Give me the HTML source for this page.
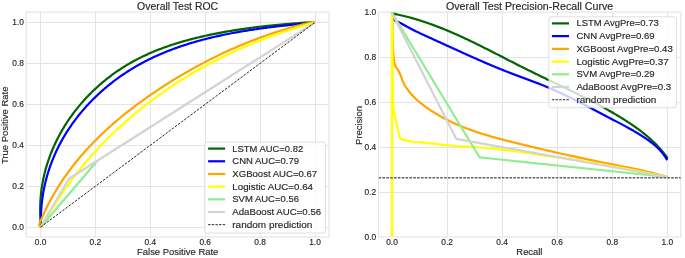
<!DOCTYPE html>
<html><head><meta charset="utf-8"><title>ROC and PR curves</title>
<style>
html,body{margin:0;padding:0;background:#fff;width:685px;height:258px;overflow:hidden;}
svg{display:block;will-change:transform;font-family:"Liberation Sans",sans-serif;}
text{font-family:"Liberation Sans",sans-serif;stroke:#262626;stroke-width:0.15px;paint-order:stroke;}
</style></head><body>
<svg width="685" height="258" viewBox="0 0 685 258" font-family="Liberation Sans, sans-serif" fill="#262626">
<defs>
<clipPath id="clipL"><rect x="26.20" y="12.10" width="302.80" height="224.90"/></clipPath>
<clipPath id="clipR"><rect x="378.60" y="12.10" width="302.20" height="224.90"/></clipPath>
</defs>
<rect x="0" y="0" width="685" height="258" fill="#fff"/>
<g stroke="#e4e4e4" stroke-width="1.0" shape-rendering="auto">
<line x1="40.50" y1="12.10" x2="40.50" y2="237.00"/>
<line x1="95.50" y1="12.10" x2="95.50" y2="237.00"/>
<line x1="150.50" y1="12.10" x2="150.50" y2="237.00"/>
<line x1="205.50" y1="12.10" x2="205.50" y2="237.00"/>
<line x1="260.50" y1="12.10" x2="260.50" y2="237.00"/>
<line x1="315.50" y1="12.10" x2="315.50" y2="237.00"/>
<line x1="26.20" y1="22.50" x2="329.00" y2="22.50"/>
<line x1="26.20" y1="63.50" x2="329.00" y2="63.50"/>
<line x1="26.20" y1="104.50" x2="329.00" y2="104.50"/>
<line x1="26.20" y1="145.50" x2="329.00" y2="145.50"/>
<line x1="26.20" y1="186.50" x2="329.00" y2="186.50"/>
<line x1="26.20" y1="227.50" x2="329.00" y2="227.50"/>
<line x1="392.50" y1="12.10" x2="392.50" y2="237.00"/>
<line x1="447.50" y1="12.10" x2="447.50" y2="237.00"/>
<line x1="502.50" y1="12.10" x2="502.50" y2="237.00"/>
<line x1="557.50" y1="12.10" x2="557.50" y2="237.00"/>
<line x1="612.50" y1="12.10" x2="612.50" y2="237.00"/>
<line x1="667.50" y1="12.10" x2="667.50" y2="237.00"/>
<line x1="378.60" y1="57.50" x2="680.80" y2="57.50"/>
<line x1="378.60" y1="102.50" x2="680.80" y2="102.50"/>
<line x1="378.60" y1="147.50" x2="680.80" y2="147.50"/>
<line x1="378.60" y1="192.50" x2="680.80" y2="192.50"/>
</g>
<rect x="26.20" y="12.10" width="302.80" height="224.90" fill="none" stroke="#e0e0e0" stroke-width="1.0"/>
<rect x="378.60" y="12.10" width="302.20" height="224.90" fill="none" stroke="#e0e0e0" stroke-width="1.0"/>
<g clip-path="url(#clipL)">
<path d="M40.50 227.00 L41.07 226.28 L40.93 224.92 L40.80 223.56 L40.68 222.21 L40.57 220.86 L40.48 219.51 L40.40 218.16 L40.33 216.81 L40.27 215.47 L40.22 214.13 L40.19 212.78 L40.17 211.45 L40.16 210.11 L40.16 208.77 L40.18 207.44 L40.20 206.11 L40.24 204.78 L40.29 203.46 L40.35 202.13 L40.42 200.81 L40.51 199.49 L40.60 198.18 L40.71 196.86 L40.83 195.55 L40.95 194.24 L41.10 192.93 L41.25 191.63 L41.41 190.33 L41.58 189.03 L41.77 187.73 L41.96 186.44 L42.17 185.15 L42.39 183.86 L42.62 182.58 L42.85 181.30 L43.10 180.02 L43.36 178.74 L43.64 177.47 L43.92 176.20 L44.21 174.93 L44.51 173.67 L44.82 172.41 L45.15 171.16 L45.48 169.90 L45.82 168.65 L46.18 167.41 L46.54 166.16 L46.91 164.92 L47.30 163.69 L47.69 162.46 L48.09 161.23 L48.50 160.00 L48.93 158.78 L49.36 157.56 L49.80 156.35 L50.25 155.14 L50.71 153.93 L51.19 152.73 L51.67 151.53 L52.16 150.34 L52.65 149.15 L53.16 147.96 L53.68 146.78 L54.21 145.60 L54.74 144.43 L55.29 143.26 L55.84 142.09 L56.40 140.93 L56.97 139.78 L57.55 138.63 L58.14 137.48 L58.74 136.34 L59.35 135.20 L59.96 134.06 L60.58 132.93 L61.22 131.81 L61.86 130.69 L62.51 129.57 L63.16 128.46 L63.83 127.36 L64.50 126.26 L65.18 125.16 L65.87 124.07 L66.57 122.99 L67.28 121.91 L67.99 120.83 L68.71 119.76 L69.44 118.70 L70.18 117.64 L70.93 116.58 L71.68 115.53 L72.44 114.49 L73.21 113.45 L73.99 112.41 L74.77 111.39 L75.56 110.36 L76.36 109.35 L77.16 108.34 L77.98 107.33 L78.80 106.33 L79.62 105.34 L80.46 104.35 L81.30 103.37 L82.15 102.39 L83.00 101.42 L83.86 100.45 L84.73 99.49 L85.61 98.54 L86.49 97.59 L87.38 96.65 L88.27 95.72 L89.18 94.79 L90.09 93.87 L91.00 92.95 L91.92 92.04 L92.85 91.14 L93.78 90.24 L94.72 89.35 L95.67 88.47 L96.62 87.59 L97.58 86.72 L98.55 85.86 L99.52 85.00 L100.49 84.15 L101.48 83.30 L102.46 82.46 L103.46 81.63 L104.46 80.81 L105.46 79.99 L106.47 79.18 L107.49 78.38 L108.51 77.58 L109.54 76.79 L110.57 76.01 L111.61 75.24 L112.65 74.47 L113.70 73.71 L114.75 72.96 L115.81 72.21 L116.88 71.47 L117.95 70.74 L119.02 70.02 L120.10 69.30 L121.18 68.59 L122.27 67.89 L123.36 67.20 L124.46 66.51 L125.56 65.83 L126.67 65.16 L127.78 64.50 L128.89 63.85 L130.01 63.20 L131.14 62.56 L132.27 61.93 L133.40 61.30 L134.54 60.69 L135.68 60.08 L136.82 59.48 L137.97 58.88 L139.12 58.30 L140.28 57.72 L141.44 57.14 L142.61 56.58 L143.77 56.02 L144.94 55.47 L146.12 54.93 L147.30 54.39 L148.48 53.86 L149.67 53.33 L150.85 52.82 L152.05 52.31 L153.24 51.80 L154.44 51.30 L155.64 50.81 L156.85 50.33 L158.05 49.85 L159.26 49.38 L160.48 48.91 L161.69 48.45 L162.91 48.00 L164.13 47.55 L165.36 47.11 L166.59 46.67 L167.81 46.24 L169.05 45.82 L170.28 45.40 L171.52 44.99 L172.76 44.58 L174.00 44.18 L175.24 43.78 L176.48 43.39 L177.73 43.01 L178.98 42.63 L180.23 42.25 L181.49 41.88 L182.74 41.51 L184.00 41.15 L185.25 40.80 L186.51 40.45 L187.78 40.10 L189.04 39.76 L190.30 39.43 L191.57 39.09 L192.84 38.77 L194.10 38.44 L195.37 38.13 L196.64 37.81 L197.92 37.50 L199.19 37.20 L200.46 36.90 L201.74 36.60 L203.01 36.31 L204.29 36.02 L205.57 35.73 L206.85 35.45 L208.12 35.18 L209.40 34.90 L210.68 34.63 L211.96 34.37 L213.24 34.10 L214.52 33.84 L215.81 33.59 L217.09 33.34 L218.37 33.09 L219.65 32.84 L220.94 32.60 L222.22 32.36 L223.50 32.13 L224.79 31.90 L226.07 31.67 L227.36 31.44 L228.64 31.22 L229.93 31.00 L231.21 30.79 L232.50 30.58 L233.78 30.37 L235.07 30.16 L236.36 29.96 L237.64 29.76 L238.93 29.56 L240.22 29.36 L241.51 29.17 L242.79 28.99 L244.08 28.80 L245.37 28.62 L246.66 28.44 L247.95 28.26 L249.23 28.08 L250.52 27.91 L251.81 27.74 L253.10 27.58 L254.39 27.41 L255.67 27.25 L256.96 27.09 L258.25 26.94 L259.54 26.78 L260.83 26.63 L262.12 26.48 L263.40 26.33 L264.69 26.19 L265.98 26.05 L267.27 25.91 L268.56 25.77 L269.84 25.64 L271.13 25.50 L272.42 25.37 L273.71 25.24 L274.99 25.12 L276.28 24.99 L277.57 24.87 L278.85 24.75 L280.14 24.63 L281.43 24.51 L282.71 24.40 L284.00 24.28 L285.28 24.17 L286.57 24.06 L287.85 23.96 L289.14 23.85 L290.42 23.75 L291.70 23.64 L292.99 23.54 L294.27 23.44 L295.55 23.35 L296.84 23.25 L298.12 23.16 L299.40 23.06 L300.68 22.97 L301.96 22.88 L303.24 22.79 L304.52 22.70 L305.80 22.62 L307.08 22.53 L308.35 22.45 L309.63 22.37 L310.91 22.29 L312.18 22.21 L313.46 22.13 L315.00 22.40" fill="none" stroke="#006400" stroke-width="2.20" stroke-linejoin="round" stroke-linecap="butt"/>
<path d="M40.50 227.00 L40.98 226.15 L40.94 224.83 L40.91 223.51 L40.88 222.20 L40.87 220.88 L40.87 219.57 L40.88 218.26 L40.91 216.95 L40.94 215.64 L40.98 214.34 L41.03 213.03 L41.10 211.73 L41.17 210.43 L41.26 209.13 L41.35 207.83 L41.46 206.53 L41.58 205.24 L41.70 203.95 L41.84 202.66 L41.99 201.37 L42.14 200.09 L42.31 198.80 L42.49 197.52 L42.68 196.25 L42.88 194.97 L43.08 193.70 L43.30 192.43 L43.53 191.16 L43.77 189.89 L44.01 188.63 L44.27 187.37 L44.54 186.11 L44.82 184.86 L45.10 183.60 L45.40 182.36 L45.71 181.11 L46.02 179.87 L46.35 178.63 L46.68 177.39 L47.03 176.16 L47.38 174.93 L47.74 173.70 L48.11 172.48 L48.50 171.25 L48.89 170.04 L49.29 168.82 L49.70 167.61 L50.12 166.41 L50.54 165.21 L50.98 164.01 L51.43 162.81 L51.88 161.62 L52.35 160.43 L52.82 159.25 L53.30 158.07 L53.79 156.89 L54.29 155.72 L54.80 154.55 L55.32 153.39 L55.84 152.23 L56.38 151.08 L56.92 149.93 L57.47 148.78 L58.03 147.64 L58.60 146.50 L59.18 145.37 L59.76 144.24 L60.36 143.11 L60.96 141.99 L61.57 140.88 L62.19 139.77 L62.82 138.66 L63.45 137.56 L64.09 136.47 L64.74 135.37 L65.40 134.29 L66.07 133.20 L66.74 132.13 L67.42 131.05 L68.11 129.99 L68.81 128.92 L69.51 127.86 L70.23 126.81 L70.95 125.76 L71.67 124.72 L72.41 123.68 L73.15 122.65 L73.90 121.62 L74.65 120.59 L75.41 119.57 L76.18 118.56 L76.96 117.55 L77.74 116.55 L78.53 115.55 L79.33 114.56 L80.14 113.57 L80.95 112.59 L81.76 111.61 L82.59 110.64 L83.42 109.67 L84.26 108.71 L85.10 107.76 L85.95 106.81 L86.81 105.86 L87.67 104.92 L88.54 103.99 L89.41 103.06 L90.29 102.14 L91.18 101.22 L92.07 100.31 L92.97 99.41 L93.87 98.50 L94.78 97.61 L95.70 96.72 L96.62 95.84 L97.55 94.96 L98.48 94.09 L99.42 93.22 L100.37 92.37 L101.31 91.51 L102.27 90.66 L103.23 89.82 L104.20 88.99 L105.17 88.16 L106.14 87.33 L107.12 86.51 L108.11 85.70 L109.10 84.90 L110.09 84.10 L111.09 83.30 L112.10 82.51 L113.11 81.73 L114.12 80.96 L115.14 80.19 L116.17 79.43 L117.20 78.67 L118.23 77.92 L119.27 77.18 L120.31 76.44 L121.35 75.71 L122.40 74.99 L123.46 74.27 L124.52 73.56 L125.58 72.85 L126.65 72.15 L127.72 71.46 L128.79 70.78 L129.87 70.10 L130.95 69.43 L132.04 68.76 L133.13 68.10 L134.22 67.45 L135.32 66.81 L136.42 66.17 L137.52 65.54 L138.63 64.91 L139.74 64.29 L140.85 63.68 L141.97 63.07 L143.09 62.47 L144.22 61.88 L145.34 61.30 L146.47 60.72 L147.61 60.14 L148.75 59.57 L149.89 59.01 L151.03 58.46 L152.17 57.91 L153.32 57.36 L154.48 56.83 L155.63 56.30 L156.79 55.77 L157.95 55.25 L159.11 54.74 L160.28 54.23 L161.45 53.73 L162.62 53.23 L163.80 52.74 L164.97 52.25 L166.15 51.77 L167.33 51.30 L168.52 50.83 L169.71 50.37 L170.90 49.91 L172.09 49.46 L173.28 49.01 L174.48 48.57 L175.68 48.13 L176.88 47.70 L178.09 47.28 L179.29 46.86 L180.50 46.44 L181.71 46.03 L182.92 45.62 L184.14 45.22 L185.35 44.83 L186.57 44.44 L187.79 44.05 L189.01 43.67 L190.24 43.29 L191.46 42.92 L192.69 42.55 L193.92 42.19 L195.15 41.83 L196.38 41.48 L197.62 41.13 L198.86 40.79 L200.09 40.45 L201.33 40.11 L202.57 39.78 L203.82 39.45 L205.06 39.13 L206.30 38.81 L207.55 38.50 L208.80 38.19 L210.05 37.88 L211.30 37.58 L212.55 37.28 L213.80 36.99 L215.06 36.70 L216.31 36.41 L217.57 36.13 L218.82 35.85 L220.08 35.57 L221.34 35.30 L222.60 35.03 L223.86 34.77 L225.12 34.51 L226.39 34.25 L227.65 34.00 L228.91 33.75 L230.18 33.50 L231.44 33.26 L232.71 33.02 L233.98 32.78 L235.24 32.55 L236.51 32.32 L237.78 32.10 L239.05 31.87 L240.32 31.65 L241.59 31.43 L242.86 31.22 L244.13 31.01 L245.40 30.80 L246.67 30.59 L247.94 30.39 L249.21 30.19 L250.48 29.99 L251.75 29.80 L253.02 29.61 L254.29 29.42 L255.56 29.23 L256.83 29.05 L258.10 28.87 L259.38 28.69 L260.65 28.51 L261.92 28.34 L263.19 28.16 L264.46 27.99 L265.73 27.83 L267.00 27.66 L268.26 27.50 L269.53 27.34 L270.80 27.18 L272.07 27.02 L273.33 26.87 L274.60 26.71 L275.87 26.56 L277.13 26.41 L278.40 26.27 L279.66 26.12 L280.92 25.98 L282.18 25.84 L283.45 25.70 L284.71 25.56 L285.97 25.42 L287.22 25.29 L288.48 25.15 L289.74 25.02 L290.99 24.89 L292.25 24.76 L293.50 24.63 L294.75 24.50 L296.00 24.38 L297.25 24.25 L298.50 24.13 L299.75 24.01 L301.00 23.89 L302.24 23.77 L303.48 23.65 L304.73 23.53 L305.97 23.41 L307.20 23.30 L308.44 23.18 L309.68 23.07 L310.91 22.95 L312.14 22.84 L313.37 22.73 L315.00 22.40" fill="none" stroke="#0000ff" stroke-width="2.20" stroke-linejoin="round" stroke-linecap="butt"/>
<path d="M40.50 227.00 L38.92 225.28 L39.36 224.15 L39.80 223.02 L40.25 221.90 L40.71 220.78 L41.17 219.66 L41.64 218.55 L42.12 217.44 L42.59 216.34 L43.08 215.23 L43.57 214.14 L44.07 213.04 L44.57 211.95 L45.08 210.86 L45.59 209.78 L46.11 208.70 L46.63 207.62 L47.16 206.55 L47.70 205.48 L48.24 204.42 L48.78 203.36 L49.33 202.30 L49.89 201.24 L50.45 200.19 L51.02 199.14 L51.59 198.10 L52.17 197.06 L52.75 196.02 L53.33 194.99 L53.93 193.96 L54.52 192.93 L55.12 191.91 L55.73 190.89 L56.34 189.88 L56.96 188.86 L57.58 187.85 L58.21 186.85 L58.84 185.85 L59.48 184.85 L60.12 183.85 L60.76 182.86 L61.41 181.87 L62.07 180.89 L62.73 179.90 L63.39 178.93 L64.06 177.95 L64.73 176.98 L65.41 176.01 L66.09 175.05 L66.78 174.08 L67.47 173.12 L68.17 172.17 L68.87 171.22 L69.57 170.27 L70.28 169.32 L70.99 168.38 L71.71 167.44 L72.43 166.51 L73.16 165.57 L73.89 164.65 L74.62 163.72 L75.36 162.80 L76.11 161.88 L76.85 160.96 L77.60 160.05 L78.36 159.14 L79.12 158.23 L79.88 157.33 L80.65 156.43 L81.42 155.53 L82.19 154.64 L82.97 153.74 L83.75 152.86 L84.54 151.97 L85.33 151.09 L86.12 150.21 L86.92 149.33 L87.72 148.46 L88.52 147.59 L89.33 146.73 L90.14 145.86 L90.96 145.00 L91.78 144.14 L92.60 143.29 L93.42 142.44 L94.25 141.59 L95.09 140.74 L95.92 139.90 L96.76 139.06 L97.61 138.23 L98.45 137.39 L99.30 136.56 L100.15 135.73 L101.01 134.91 L101.87 134.09 L102.73 133.27 L103.60 132.45 L104.46 131.64 L105.34 130.83 L106.21 130.02 L107.09 129.21 L107.97 128.41 L108.85 127.61 L109.74 126.82 L110.63 126.02 L111.52 125.23 L112.42 124.45 L113.32 123.66 L114.22 122.88 L115.12 122.10 L116.03 121.32 L116.94 120.55 L117.85 119.78 L118.76 119.01 L119.68 118.24 L120.60 117.48 L121.52 116.72 L122.45 115.96 L123.37 115.21 L124.30 114.45 L125.24 113.70 L126.17 112.96 L127.11 112.21 L128.05 111.47 L128.99 110.73 L129.93 109.99 L130.88 109.26 L131.83 108.53 L132.78 107.80 L133.73 107.07 L134.69 106.35 L135.64 105.63 L136.60 104.91 L137.57 104.19 L138.53 103.48 L139.50 102.77 L140.46 102.06 L141.43 101.36 L142.40 100.65 L143.38 99.95 L144.35 99.25 L145.33 98.56 L146.31 97.86 L147.29 97.17 L148.27 96.49 L149.26 95.80 L150.24 95.12 L151.23 94.43 L152.22 93.76 L153.21 93.08 L154.21 92.41 L155.20 91.73 L156.20 91.06 L157.19 90.40 L158.19 89.73 L159.19 89.07 L160.19 88.41 L161.20 87.75 L162.20 87.10 L163.21 86.45 L164.22 85.79 L165.23 85.15 L166.24 84.50 L167.25 83.86 L168.26 83.22 L169.27 82.58 L170.29 81.94 L171.31 81.31 L172.33 80.68 L173.35 80.05 L174.37 79.42 L175.39 78.80 L176.41 78.17 L177.44 77.55 L178.46 76.94 L179.49 76.32 L180.52 75.71 L181.55 75.10 L182.58 74.49 L183.62 73.89 L184.65 73.29 L185.69 72.69 L186.72 72.09 L187.76 71.50 L188.80 70.90 L189.84 70.31 L190.88 69.73 L191.93 69.14 L192.97 68.56 L194.02 67.98 L195.06 67.40 L196.11 66.83 L197.16 66.26 L198.21 65.69 L199.26 65.12 L200.32 64.56 L201.37 64.00 L202.43 63.44 L203.49 62.88 L204.54 62.33 L205.60 61.78 L206.66 61.23 L207.72 60.68 L208.79 60.14 L209.85 59.60 L210.92 59.06 L211.98 58.53 L213.05 57.99 L214.12 57.46 L215.19 56.94 L216.26 56.41 L217.33 55.89 L218.41 55.37 L219.48 54.86 L220.56 54.34 L221.63 53.83 L222.71 53.32 L223.79 52.82 L224.87 52.31 L225.95 51.82 L227.04 51.32 L228.12 50.82 L229.20 50.33 L230.29 49.84 L231.38 49.36 L232.46 48.87 L233.55 48.39 L234.64 47.92 L235.74 47.44 L236.83 46.97 L237.92 46.50 L239.02 46.03 L240.11 45.57 L241.21 45.11 L242.31 44.65 L243.40 44.20 L244.50 43.74 L245.60 43.29 L246.71 42.85 L247.81 42.40 L248.91 41.96 L250.02 41.53 L251.12 41.09 L252.23 40.66 L253.34 40.23 L254.45 39.80 L255.56 39.38 L256.67 38.96 L257.78 38.54 L258.89 38.13 L260.01 37.72 L261.12 37.31 L262.24 36.90 L263.35 36.50 L264.47 36.10 L265.59 35.71 L266.71 35.31 L267.83 34.92 L268.95 34.53 L270.07 34.15 L271.20 33.77 L272.32 33.39 L273.45 33.01 L274.57 32.64 L275.70 32.27 L276.83 31.91 L277.95 31.54 L279.08 31.18 L280.21 30.83 L281.35 30.47 L282.48 30.12 L283.61 29.77 L284.75 29.43 L285.88 29.09 L287.02 28.75 L288.15 28.41 L289.29 28.08 L290.43 27.75 L291.57 27.43 L292.71 27.11 L293.85 26.79 L294.99 26.47 L296.13 26.16 L297.28 25.85 L298.42 25.54 L299.56 25.24 L300.71 24.94 L301.86 24.64 L303.00 24.35 L304.15 24.05 L305.30 23.77 L306.45 23.48 L307.60 23.20 L308.75 22.92 L309.90 22.65 L311.06 22.38 L312.21 22.11 L313.37 21.85 L315.00 22.40" fill="none" stroke="#ffa500" stroke-width="2.20" stroke-linejoin="round" stroke-linecap="butt"/>
<path d="M40.50 227.20 L41.77 226.86 L42.33 225.81 L42.90 224.76 L43.48 223.71 L44.05 222.66 L44.63 221.62 L45.21 220.58 L45.80 219.54 L46.39 218.50 L46.98 217.46 L47.57 216.43 L48.17 215.40 L48.77 214.37 L49.38 213.35 L49.99 212.32 L50.60 211.30 L51.21 210.28 L51.83 209.27 L52.45 208.25 L53.07 207.24 L53.70 206.23 L54.33 205.23 L54.96 204.22 L55.60 203.22 L56.23 202.22 L56.88 201.23 L57.52 200.23 L58.17 199.24 L58.82 198.25 L59.47 197.26 L60.13 196.28 L60.79 195.29 L61.45 194.31 L62.12 193.34 L62.79 192.36 L63.46 191.39 L64.13 190.42 L64.81 189.45 L65.49 188.48 L66.17 187.52 L66.86 186.56 L67.55 185.60 L68.24 184.64 L68.93 183.69 L69.63 182.74 L70.33 181.79 L71.04 180.84 L71.74 179.90 L72.45 178.96 L73.16 178.02 L73.88 177.08 L74.60 176.14 L75.32 175.21 L76.04 174.28 L76.76 173.35 L77.49 172.43 L78.22 171.51 L78.96 170.59 L79.70 169.67 L80.44 168.75 L81.18 167.84 L81.92 166.93 L82.67 166.02 L83.42 165.12 L84.17 164.21 L84.93 163.31 L85.69 162.42 L86.45 161.52 L87.21 160.63 L87.98 159.74 L88.75 158.85 L89.52 157.96 L90.30 157.08 L91.07 156.20 L91.85 155.32 L92.63 154.44 L93.42 153.57 L94.21 152.70 L95.00 151.83 L95.79 150.96 L96.58 150.10 L97.38 149.24 L98.18 148.38 L98.98 147.52 L99.79 146.67 L100.60 145.81 L101.41 144.96 L102.22 144.12 L103.03 143.27 L103.85 142.43 L104.67 141.59 L105.49 140.76 L106.32 139.92 L107.15 139.09 L107.97 138.26 L108.81 137.43 L109.64 136.61 L110.48 135.79 L111.32 134.97 L112.16 134.15 L113.00 133.33 L113.85 132.52 L114.70 131.71 L115.55 130.90 L116.40 130.10 L117.26 129.30 L118.12 128.50 L118.98 127.70 L119.84 126.91 L120.70 126.11 L121.57 125.32 L122.44 124.54 L123.31 123.75 L124.19 122.97 L125.06 122.19 L125.94 121.41 L126.82 120.64 L127.71 119.86 L128.59 119.09 L129.48 118.33 L130.37 117.56 L131.26 116.80 L132.15 116.04 L133.05 115.28 L133.95 114.53 L134.85 113.78 L135.75 113.03 L136.65 112.28 L137.56 111.53 L138.47 110.79 L139.38 110.05 L140.29 109.32 L141.21 108.58 L142.13 107.85 L143.05 107.12 L143.97 106.39 L144.89 105.67 L145.82 104.95 L146.74 104.23 L147.67 103.51 L148.60 102.79 L149.54 102.08 L150.47 101.37 L151.41 100.67 L152.35 99.96 L153.29 99.26 L154.23 98.56 L155.18 97.86 L156.13 97.17 L157.08 96.48 L158.03 95.79 L158.98 95.10 L159.93 94.42 L160.89 93.74 L161.85 93.06 L162.81 92.38 L163.77 91.71 L164.74 91.04 L165.70 90.37 L166.67 89.70 L167.64 89.04 L168.61 88.38 L169.59 87.72 L170.56 87.06 L171.54 86.41 L172.52 85.76 L173.50 85.11 L174.48 84.46 L175.46 83.82 L176.45 83.18 L177.44 82.54 L178.43 81.91 L179.42 81.28 L180.41 80.64 L181.40 80.02 L182.40 79.39 L183.40 78.77 L184.40 78.15 L185.40 77.53 L186.40 76.92 L187.41 76.31 L188.41 75.70 L189.42 75.09 L190.43 74.48 L191.44 73.88 L192.45 73.28 L193.47 72.69 L194.48 72.09 L195.50 71.50 L196.52 70.91 L197.54 70.33 L198.56 69.74 L199.59 69.16 L200.61 68.58 L201.64 68.01 L202.67 67.43 L203.70 66.86 L204.73 66.29 L205.76 65.73 L206.80 65.17 L207.83 64.61 L208.87 64.05 L209.91 63.49 L210.95 62.94 L211.99 62.39 L213.03 61.84 L214.08 61.30 L215.12 60.76 L216.17 60.22 L217.22 59.68 L218.27 59.15 L219.32 58.62 L220.37 58.09 L221.43 57.56 L222.48 57.04 L223.54 56.52 L224.60 56.00 L225.66 55.48 L226.72 54.97 L227.78 54.46 L228.84 53.95 L229.91 53.45 L230.97 52.94 L232.04 52.44 L233.11 51.95 L234.18 51.45 L235.25 50.96 L236.32 50.47 L237.40 49.98 L238.47 49.50 L239.55 49.02 L240.62 48.54 L241.70 48.06 L242.78 47.59 L243.86 47.12 L244.94 46.65 L246.03 46.18 L247.11 45.72 L248.20 45.26 L249.28 44.80 L250.37 44.35 L251.46 43.90 L252.55 43.45 L253.64 43.00 L254.73 42.56 L255.82 42.11 L256.92 41.68 L258.01 41.24 L259.11 40.81 L260.21 40.38 L261.31 39.95 L262.40 39.52 L263.50 39.10 L264.61 38.68 L265.71 38.26 L266.81 37.85 L267.92 37.43 L269.02 37.02 L270.13 36.62 L271.23 36.21 L272.34 35.81 L273.45 35.41 L274.56 35.02 L275.67 34.62 L276.78 34.23 L277.90 33.85 L279.01 33.46 L280.12 33.08 L281.24 32.70 L282.35 32.32 L283.47 31.95 L284.59 31.57 L285.71 31.21 L286.83 30.84 L287.95 30.48 L289.07 30.11 L290.19 29.76 L291.31 29.40 L292.44 29.05 L293.56 28.70 L294.69 28.35 L295.81 28.01 L296.94 27.66 L298.07 27.32 L299.19 26.99 L300.32 26.65 L301.45 26.32 L302.58 25.99 L303.71 25.67 L304.84 25.35 L305.98 25.03 L307.11 24.71 L308.24 24.39 L309.38 24.08 L310.51 23.77 L311.65 23.47 L312.78 23.16 L313.92 22.86 L315.00 22.40" fill="none" stroke="#ffff00" stroke-width="2.20" stroke-linejoin="round" stroke-linecap="butt"/>
<path d="M40.50 227.20 L97.00 161.20 L98.00 160.60" fill="none" stroke="#90ee90" stroke-width="2.20" stroke-linejoin="round" stroke-linecap="butt"/>
<path d="M40.50 227.00 L69.00 178.80 L315.00 22.40" fill="none" stroke="#d3d3d3" stroke-width="2.20" stroke-linejoin="round" stroke-linecap="butt"/>
<line x1="40.50" y1="227.20" x2="315.00" y2="22.40" stroke="#000" stroke-width="0.85" stroke-dasharray="2.6 1.3"/>
</g>
<g clip-path="url(#clipR)">
<path d="M391.70 12.40 L392.33 13.45 L393.39 13.66 L394.45 13.87 L395.50 14.08 L396.56 14.30 L397.61 14.52 L398.66 14.75 L399.70 14.98 L400.75 15.22 L401.79 15.46 L402.83 15.71 L403.87 15.96 L404.91 16.22 L405.94 16.48 L406.98 16.74 L408.01 17.01 L409.04 17.28 L410.06 17.56 L411.09 17.84 L412.11 18.13 L413.13 18.41 L414.15 18.71 L415.17 19.01 L416.19 19.31 L417.20 19.61 L418.21 19.92 L419.22 20.23 L420.23 20.55 L421.24 20.87 L422.24 21.19 L423.25 21.52 L424.25 21.85 L425.25 22.19 L426.25 22.53 L427.25 22.87 L428.24 23.21 L429.24 23.56 L430.23 23.92 L431.22 24.27 L432.21 24.63 L433.20 24.99 L434.19 25.36 L435.17 25.72 L436.16 26.10 L437.14 26.47 L438.12 26.85 L439.10 27.23 L440.08 27.61 L441.06 28.00 L442.04 28.39 L443.01 28.78 L443.99 29.17 L444.96 29.57 L445.93 29.97 L446.90 30.37 L447.87 30.78 L448.84 31.19 L449.81 31.60 L450.77 32.01 L451.74 32.42 L452.70 32.84 L453.66 33.26 L454.63 33.68 L455.59 34.11 L456.55 34.53 L457.51 34.96 L458.47 35.39 L459.42 35.83 L460.38 36.26 L461.34 36.70 L462.29 37.14 L463.25 37.58 L464.20 38.02 L465.15 38.47 L466.10 38.91 L467.05 39.36 L468.00 39.81 L468.95 40.26 L469.90 40.71 L470.85 41.17 L471.80 41.63 L472.75 42.08 L473.69 42.54 L474.64 43.00 L475.59 43.46 L476.53 43.93 L477.48 44.39 L478.42 44.86 L479.36 45.32 L480.31 45.79 L481.25 46.26 L482.19 46.73 L483.14 47.20 L484.08 47.67 L485.02 48.15 L485.96 48.62 L486.90 49.10 L487.84 49.57 L488.78 50.05 L489.72 50.52 L490.66 51.00 L491.60 51.48 L492.54 51.96 L493.48 52.44 L494.42 52.92 L495.36 53.40 L496.30 53.88 L497.24 54.36 L498.18 54.84 L499.12 55.32 L500.06 55.81 L501.00 56.29 L501.94 56.77 L502.88 57.25 L503.82 57.74 L504.75 58.22 L505.69 58.70 L506.63 59.18 L507.57 59.67 L508.51 60.15 L509.46 60.63 L510.40 61.11 L511.34 61.60 L512.28 62.08 L513.22 62.56 L514.16 63.04 L515.10 63.52 L516.05 64.00 L516.99 64.48 L517.93 64.96 L518.88 65.44 L519.82 65.91 L520.77 66.39 L521.71 66.87 L522.66 67.34 L523.60 67.82 L524.55 68.29 L525.50 68.76 L526.45 69.23 L527.40 69.70 L528.35 70.17 L529.29 70.64 L530.25 71.11 L531.20 71.58 L532.15 72.05 L533.10 72.51 L534.05 72.98 L535.00 73.44 L535.96 73.91 L536.91 74.37 L537.86 74.83 L538.82 75.29 L539.77 75.75 L540.73 76.22 L541.68 76.68 L542.64 77.14 L543.59 77.60 L544.55 78.06 L545.50 78.52 L546.46 78.97 L547.42 79.43 L548.37 79.89 L549.33 80.35 L550.29 80.81 L551.24 81.27 L552.20 81.73 L553.15 82.18 L554.11 82.64 L555.07 83.10 L556.02 83.56 L556.98 84.02 L557.94 84.48 L558.89 84.93 L559.85 85.39 L560.80 85.85 L561.76 86.31 L562.71 86.77 L563.67 87.23 L564.62 87.69 L565.58 88.15 L566.53 88.62 L567.48 89.08 L568.44 89.54 L569.39 90.00 L570.34 90.47 L571.29 90.93 L572.25 91.40 L573.20 91.86 L574.15 92.33 L575.10 92.80 L576.05 93.27 L577.00 93.73 L577.94 94.20 L578.89 94.67 L579.84 95.15 L580.78 95.62 L581.73 96.09 L582.68 96.57 L583.62 97.04 L584.56 97.52 L585.51 98.00 L586.45 98.48 L587.39 98.96 L588.33 99.44 L589.27 99.92 L590.21 100.41 L591.15 100.89 L592.08 101.38 L593.02 101.87 L593.95 102.36 L594.89 102.85 L595.82 103.35 L596.75 103.84 L597.68 104.34 L598.61 104.83 L599.54 105.33 L600.47 105.84 L601.39 106.34 L602.32 106.84 L603.24 107.35 L604.17 107.86 L605.09 108.37 L606.01 108.88 L606.93 109.40 L607.84 109.91 L608.76 110.43 L609.67 110.95 L610.59 111.47 L611.50 112.00 L612.41 112.53 L613.32 113.05 L614.23 113.59 L615.13 114.12 L616.04 114.66 L616.94 115.19 L617.84 115.73 L618.74 116.28 L619.64 116.82 L620.54 117.37 L621.43 117.92 L622.33 118.47 L623.22 119.03 L624.11 119.59 L625.00 120.15 L625.88 120.71 L626.77 121.28 L627.65 121.85 L628.53 122.43 L629.40 123.00 L630.28 123.58 L631.15 124.17 L632.02 124.76 L632.88 125.35 L633.74 125.94 L634.60 126.54 L635.46 127.15 L636.31 127.76 L637.16 128.37 L638.01 128.98 L638.85 129.61 L639.69 130.23 L640.52 130.86 L641.35 131.50 L642.18 132.14 L643.00 132.79 L643.82 133.44 L644.63 134.09 L645.44 134.75 L646.25 135.42 L647.05 136.09 L647.85 136.77 L648.64 137.46 L649.42 138.15 L650.20 138.84 L650.98 139.54 L651.75 140.25 L652.52 140.97 L653.28 141.69 L654.03 142.41 L654.78 143.15 L655.53 143.89 L656.26 144.64 L656.99 145.39 L657.72 146.15 L658.44 146.92 L659.15 147.70 L659.86 148.48 L660.56 149.27 L661.26 150.07 L661.94 150.87 L662.62 151.69 L663.30 152.51 L663.97 153.34 L664.63 154.18 L665.28 155.02 L665.92 155.87 L666.56 156.74 L667.19 157.61 L667.00 159.00" fill="none" stroke="#006400" stroke-width="2.20" stroke-linejoin="round" stroke-linecap="butt"/>
<path d="M391.70 12.40 L392.35 13.29 L392.77 14.35 L393.09 15.43 L393.34 16.50 L393.56 17.54 L393.81 18.51 L394.12 19.37 L394.54 20.11 L395.09 20.69 L395.81 21.10 L396.64 21.41 L397.55 21.69 L398.49 21.99 L399.42 22.39 L400.33 22.86 L401.24 23.39 L402.14 23.94 L403.04 24.48 L403.96 25.01 L404.87 25.54 L405.79 26.06 L406.71 26.57 L407.64 27.08 L408.57 27.58 L409.51 28.08 L410.44 28.57 L411.38 29.06 L412.33 29.54 L413.27 30.02 L414.22 30.49 L415.17 30.96 L416.13 31.42 L417.08 31.88 L418.04 32.34 L419.00 32.80 L419.96 33.25 L420.92 33.70 L421.89 34.15 L422.85 34.59 L423.82 35.04 L424.79 35.48 L425.75 35.92 L426.72 36.36 L427.69 36.80 L428.66 37.24 L429.63 37.68 L430.60 38.12 L431.57 38.56 L432.54 39.00 L433.51 39.44 L434.48 39.88 L435.45 40.32 L436.42 40.76 L437.39 41.20 L438.36 41.64 L439.33 42.09 L440.30 42.53 L441.27 42.97 L442.23 43.41 L443.20 43.86 L444.17 44.30 L445.14 44.74 L446.11 45.19 L447.08 45.63 L448.05 46.07 L449.01 46.51 L449.98 46.96 L450.95 47.40 L451.92 47.84 L452.89 48.28 L453.86 48.73 L454.83 49.17 L455.80 49.61 L456.76 50.05 L457.73 50.49 L458.70 50.93 L459.67 51.37 L460.64 51.81 L461.61 52.25 L462.58 52.69 L463.55 53.13 L464.52 53.57 L465.50 54.01 L466.47 54.45 L467.44 54.88 L468.41 55.32 L469.38 55.75 L470.35 56.19 L471.33 56.62 L472.30 57.06 L473.27 57.49 L474.25 57.92 L475.22 58.35 L476.19 58.78 L477.17 59.21 L478.14 59.64 L479.12 60.07 L480.10 60.50 L481.07 60.92 L482.05 61.35 L483.03 61.77 L484.00 62.19 L484.98 62.62 L485.96 63.04 L486.94 63.46 L487.92 63.87 L488.90 64.29 L489.88 64.71 L490.86 65.12 L491.85 65.54 L492.83 65.95 L493.81 66.36 L494.80 66.77 L495.78 67.18 L496.77 67.58 L497.75 67.99 L498.74 68.39 L499.72 68.80 L500.71 69.20 L501.70 69.60 L502.69 69.99 L503.68 70.39 L504.67 70.79 L505.66 71.18 L506.66 71.57 L507.65 71.96 L508.64 72.35 L509.64 72.73 L510.63 73.12 L511.63 73.50 L512.63 73.88 L513.63 74.26 L514.62 74.64 L515.62 75.01 L516.62 75.39 L517.62 75.76 L518.62 76.14 L519.62 76.51 L520.62 76.88 L521.63 77.26 L522.63 77.63 L523.63 78.00 L524.63 78.37 L525.63 78.74 L526.63 79.11 L527.63 79.48 L528.64 79.86 L529.64 80.23 L530.64 80.60 L531.64 80.98 L532.64 81.36 L533.63 81.73 L534.63 82.11 L535.63 82.49 L536.63 82.87 L537.62 83.25 L538.62 83.64 L539.61 84.03 L540.60 84.42 L541.60 84.81 L542.59 85.20 L543.58 85.60 L544.57 86.00 L545.55 86.40 L546.54 86.80 L547.52 87.21 L548.51 87.62 L549.49 88.03 L550.47 88.45 L551.45 88.87 L552.42 89.30 L553.40 89.72 L554.37 90.15 L555.34 90.58 L556.32 91.02 L557.29 91.46 L558.25 91.90 L559.22 92.34 L560.19 92.79 L561.15 93.24 L562.12 93.69 L563.08 94.14 L564.04 94.60 L565.00 95.06 L565.96 95.52 L566.92 95.98 L567.88 96.45 L568.83 96.92 L569.79 97.38 L570.74 97.86 L571.70 98.33 L572.65 98.80 L573.60 99.28 L574.56 99.76 L575.51 100.24 L576.46 100.72 L577.41 101.20 L578.36 101.68 L579.31 102.17 L580.25 102.65 L581.20 103.14 L582.15 103.63 L583.10 104.12 L584.04 104.61 L584.99 105.10 L585.94 105.59 L586.88 106.08 L587.83 106.57 L588.77 107.07 L589.72 107.56 L590.66 108.06 L591.61 108.55 L592.55 109.05 L593.49 109.54 L594.44 110.04 L595.38 110.53 L596.33 111.03 L597.27 111.53 L598.22 112.02 L599.16 112.52 L600.11 113.01 L601.05 113.51 L602.00 114.00 L602.94 114.50 L603.89 114.99 L604.84 115.49 L605.78 115.98 L606.73 116.47 L607.68 116.96 L608.62 117.45 L609.57 117.95 L610.52 118.44 L611.47 118.93 L612.42 119.42 L613.36 119.91 L614.31 120.40 L615.26 120.90 L616.20 121.39 L617.15 121.88 L618.09 122.38 L619.04 122.88 L619.98 123.37 L620.92 123.87 L621.87 124.37 L622.81 124.88 L623.75 125.38 L624.68 125.89 L625.62 126.40 L626.56 126.91 L627.49 127.42 L628.42 127.94 L629.35 128.46 L630.28 128.98 L631.21 129.51 L632.14 130.03 L633.06 130.57 L633.98 131.10 L634.90 131.64 L635.82 132.18 L636.73 132.73 L637.64 133.28 L638.55 133.83 L639.46 134.39 L640.36 134.96 L641.27 135.52 L642.17 136.10 L643.06 136.67 L643.95 137.26 L644.84 137.84 L645.73 138.44 L646.61 139.04 L647.49 139.64 L648.36 140.25 L649.23 140.87 L650.09 141.50 L650.94 142.14 L651.79 142.79 L652.62 143.44 L653.45 144.11 L654.27 144.78 L655.08 145.47 L655.87 146.17 L656.66 146.88 L657.44 147.61 L658.20 148.34 L658.95 149.09 L659.68 149.86 L660.40 150.64 L661.11 151.43 L661.80 152.24 L662.48 153.07 L663.13 153.91 L663.78 154.77 L664.40 155.65 L665.00 156.55 L665.59 157.46 L666.16 158.39 L666.70 159.35 L667.30 160.20" fill="none" stroke="#0000ff" stroke-width="2.20" stroke-linejoin="round" stroke-linecap="butt"/>
<path d="M392.20 12.40 L392.23 13.60 L392.26 14.80 L392.28 16.00 L392.31 17.19 L392.32 18.39 L392.34 19.59 L392.35 20.79 L392.37 21.99 L392.38 23.19 L392.38 24.39 L392.39 25.59 L392.40 26.79 L392.41 27.99 L392.42 29.19 L392.43 30.39 L392.44 31.59 L392.45 32.79 L392.46 33.99 L392.48 35.19 L392.50 36.39 L392.52 37.59 L392.55 38.79 L392.58 39.99 L392.61 41.19 L392.65 42.39 L392.69 43.59 L392.74 44.79 L392.80 45.99 L392.86 47.18 L392.93 48.38 L393.00 49.58 L393.09 50.78 L393.18 51.97 L393.27 53.17 L393.38 54.37 L393.50 55.56 L393.62 56.76 L393.76 57.95 L393.90 59.14 L394.06 60.34 L394.23 61.53 L394.41 62.72 L394.66 63.89 L395.00 65.02 L395.47 66.09 L396.05 67.12 L396.70 68.12 L397.38 69.12 L398.05 70.13 L398.67 71.16 L399.23 72.23 L399.74 73.32 L400.21 74.44 L400.65 75.57 L401.07 76.71 L401.49 77.85 L401.91 78.98 L402.35 80.11 L402.82 81.22 L403.31 82.31 L403.84 83.38 L404.39 84.43 L404.97 85.47 L405.57 86.49 L406.20 87.49 L406.85 88.48 L407.53 89.45 L408.23 90.41 L408.95 91.35 L409.69 92.28 L410.45 93.20 L411.23 94.09 L412.03 94.98 L412.84 95.85 L413.67 96.71 L414.52 97.56 L415.38 98.40 L416.26 99.22 L417.15 100.04 L418.05 100.84 L418.96 101.63 L419.89 102.41 L420.82 103.18 L421.77 103.93 L422.72 104.68 L423.68 105.42 L424.65 106.15 L425.63 106.86 L426.61 107.57 L427.60 108.27 L428.60 108.96 L429.59 109.64 L430.60 110.31 L431.60 110.97 L432.62 111.63 L433.63 112.27 L434.65 112.91 L435.67 113.53 L436.70 114.15 L437.73 114.76 L438.77 115.37 L439.81 115.96 L440.85 116.55 L441.90 117.13 L442.95 117.70 L444.00 118.26 L445.06 118.82 L446.12 119.36 L447.18 119.90 L448.25 120.44 L449.32 120.96 L450.39 121.48 L451.47 122.00 L452.55 122.50 L453.63 123.00 L454.72 123.49 L455.81 123.98 L456.90 124.46 L458.00 124.93 L459.09 125.40 L460.19 125.86 L461.30 126.31 L462.40 126.76 L463.51 127.20 L464.62 127.64 L465.74 128.07 L466.85 128.50 L467.97 128.92 L469.09 129.33 L470.21 129.74 L471.34 130.15 L472.47 130.55 L473.60 130.94 L474.73 131.33 L475.86 131.72 L477.00 132.10 L478.13 132.48 L479.27 132.85 L480.41 133.22 L481.56 133.58 L482.70 133.94 L483.85 134.30 L485.00 134.65 L486.14 135.00 L487.29 135.34 L488.45 135.68 L489.60 136.02 L490.75 136.35 L491.91 136.69 L493.07 137.01 L494.22 137.34 L495.38 137.66 L496.54 137.98 L497.71 138.30 L498.87 138.61 L500.03 138.92 L501.19 139.23 L502.36 139.54 L503.52 139.84 L504.69 140.14 L505.85 140.45 L507.02 140.74 L508.19 141.04 L509.36 141.34 L510.52 141.63 L511.69 141.92 L512.86 142.21 L514.03 142.50 L515.20 142.79 L516.37 143.08 L517.54 143.36 L518.71 143.65 L519.87 143.93 L521.04 144.22 L522.21 144.50 L523.38 144.78 L524.55 145.07 L525.72 145.35 L526.88 145.63 L528.05 145.91 L529.22 146.19 L530.39 146.47 L531.56 146.75 L532.72 147.02 L533.89 147.30 L535.06 147.58 L536.23 147.85 L537.39 148.13 L538.56 148.40 L539.73 148.68 L540.90 148.95 L542.06 149.22 L543.23 149.50 L544.40 149.77 L545.57 150.04 L546.73 150.31 L547.90 150.58 L549.07 150.85 L550.24 151.11 L551.40 151.38 L552.57 151.65 L553.74 151.91 L554.91 152.18 L556.07 152.45 L557.24 152.71 L558.41 152.97 L559.58 153.24 L560.75 153.50 L561.91 153.76 L563.08 154.02 L564.25 154.28 L565.42 154.54 L566.59 154.80 L567.76 155.06 L568.92 155.32 L570.09 155.57 L571.26 155.83 L572.43 156.09 L573.60 156.34 L574.77 156.60 L575.94 156.85 L577.11 157.10 L578.28 157.36 L579.45 157.61 L580.62 157.86 L581.79 158.11 L582.96 158.36 L584.13 158.61 L585.31 158.86 L586.48 159.11 L587.65 159.35 L588.82 159.60 L589.99 159.85 L591.17 160.09 L592.34 160.34 L593.51 160.58 L594.69 160.82 L595.86 161.07 L597.03 161.31 L598.21 161.55 L599.38 161.79 L600.56 162.03 L601.73 162.27 L602.91 162.51 L604.08 162.74 L605.26 162.98 L606.44 163.22 L607.61 163.45 L608.79 163.69 L609.97 163.92 L611.15 164.16 L612.32 164.39 L613.50 164.63 L614.68 164.86 L615.86 165.09 L617.04 165.32 L618.22 165.56 L619.40 165.79 L620.58 166.02 L621.76 166.25 L622.94 166.49 L624.12 166.72 L625.30 166.96 L626.48 167.20 L627.65 167.43 L628.83 167.67 L630.01 167.91 L631.19 168.15 L632.37 168.40 L633.54 168.64 L634.72 168.89 L635.90 169.14 L637.07 169.39 L638.25 169.64 L639.42 169.89 L640.59 170.15 L641.77 170.41 L642.94 170.67 L644.11 170.94 L645.28 171.21 L646.45 171.48 L647.62 171.75 L648.78 172.03 L649.95 172.31 L651.11 172.60 L652.28 172.89 L653.44 173.18 L654.60 173.47 L655.76 173.77 L656.92 174.08 L658.08 174.39 L659.24 174.70 L660.39 175.02 L661.54 175.34 L662.70 175.66 L663.85 176.00 L664.99 176.33 L666.14 176.67 L667.30 177.00" fill="none" stroke="#ffa500" stroke-width="2.20" stroke-linejoin="round" stroke-linecap="butt"/>
<line x1="392.00" y1="237.00" x2="392.00" y2="12.40" stroke="#ffff00" stroke-width="2.40"/>
<path d="M392.00 12.40 L392.30 60.00 L392.80 100.00 L394.20 113.50 L396.60 124.00 L397.90 130.00 L399.20 135.00 L400.30 138.50 L402.00 139.60 L404.70 140.20 L409.50 141.10 L414.40 142.00 L424.10 142.70 L433.80 143.60 L443.50 144.90 L455.00 146.00 L467.10 146.60 L480.70 147.50 L494.20 148.80 L507.80 150.30 L520.00 152.00 L540.00 154.90 L557.70 157.40 L580.00 160.70 L600.00 164.00 L631.00 169.60 L650.00 173.50 L667.30 177.00" fill="none" stroke="#ffff00" stroke-width="2.20" stroke-linejoin="round" stroke-linecap="butt"/>
<path d="M391.70 12.40 L479.50 157.30 L667.30 177.00" fill="none" stroke="#90ee90" stroke-width="2.20" stroke-linejoin="round" stroke-linecap="butt"/>
<path d="M391.70 12.40 L456.20 138.80 L667.30 177.00" fill="none" stroke="#d3d3d3" stroke-width="2.20" stroke-linejoin="round" stroke-linecap="butt"/>
<line x1="378.60" y1="177.75" x2="680.80" y2="177.75" stroke="#606060" stroke-width="1.5" stroke-dasharray="2.6 1.25"/>
</g>
<rect x="204.70" y="142.10" width="120.80" height="90.90" rx="2.2" ry="2.2" fill="#ffffff" fill-opacity="0.8" stroke="#cccccc" stroke-opacity="0.8" stroke-width="0.8"/>
<line x1="208.10" y1="148.60" x2="225.10" y2="148.60" stroke="#006400" stroke-width="2.20"/>
<text x="232.30" y="151.65" font-size="9.20" textLength="70.85" lengthAdjust="spacingAndGlyphs">LSTM AUC=0.82</text>
<line x1="208.10" y1="161.28" x2="225.10" y2="161.28" stroke="#0000ff" stroke-width="2.20"/>
<text x="232.30" y="164.33" font-size="9.20" textLength="66.76" lengthAdjust="spacingAndGlyphs">CNN AUC=0.79</text>
<line x1="208.10" y1="173.96" x2="225.10" y2="173.96" stroke="#ffa500" stroke-width="2.20"/>
<text x="232.30" y="177.01" font-size="9.20" textLength="84.88" lengthAdjust="spacingAndGlyphs">XGBoost AUC=0.67</text>
<line x1="208.10" y1="186.64" x2="225.10" y2="186.64" stroke="#ffff00" stroke-width="2.20"/>
<text x="232.30" y="189.69" font-size="9.20" textLength="80.74" lengthAdjust="spacingAndGlyphs">Logistic AUC=0.64</text>
<line x1="208.10" y1="199.32" x2="225.10" y2="199.32" stroke="#90ee90" stroke-width="2.20"/>
<text x="232.30" y="202.37" font-size="9.20" textLength="66.65" lengthAdjust="spacingAndGlyphs">SVM AUC=0.56</text>
<line x1="208.10" y1="212.00" x2="225.10" y2="212.00" stroke="#d3d3d3" stroke-width="2.20"/>
<text x="232.30" y="215.05" font-size="9.20" textLength="88.83" lengthAdjust="spacingAndGlyphs">AdaBoost AUC=0.56</text>
<line x1="208.10" y1="224.68" x2="225.10" y2="224.68" stroke="#000" stroke-width="0.85" stroke-dasharray="2.4 1.25"/>
<text x="232.30" y="227.73" font-size="9.20" textLength="79.97" lengthAdjust="spacingAndGlyphs">random prediction</text>
<rect x="548.80" y="16.80" width="127.70" height="90.90" rx="2.2" ry="2.2" fill="#ffffff" fill-opacity="0.8" stroke="#cccccc" stroke-opacity="0.8" stroke-width="0.8"/>
<line x1="551.90" y1="23.40" x2="569.00" y2="23.40" stroke="#006400" stroke-width="2.20"/>
<text x="576.40" y="26.45" font-size="9.20" textLength="82.37" lengthAdjust="spacingAndGlyphs">LSTM AvgPre=0.73</text>
<line x1="551.90" y1="36.12" x2="569.00" y2="36.12" stroke="#0000ff" stroke-width="2.20"/>
<text x="576.40" y="39.17" font-size="9.20" textLength="78.28" lengthAdjust="spacingAndGlyphs">CNN AvgPre=0.69</text>
<line x1="551.90" y1="48.84" x2="569.00" y2="48.84" stroke="#ffa500" stroke-width="2.20"/>
<text x="576.40" y="51.89" font-size="9.20" textLength="96.41" lengthAdjust="spacingAndGlyphs">XGBoost AvgPre=0.43</text>
<line x1="551.90" y1="61.56" x2="569.00" y2="61.56" stroke="#ffff00" stroke-width="2.20"/>
<text x="576.40" y="64.61" font-size="9.20" textLength="92.26" lengthAdjust="spacingAndGlyphs">Logistic AvgPre=0.37</text>
<line x1="551.90" y1="74.28" x2="569.00" y2="74.28" stroke="#90ee90" stroke-width="2.20"/>
<text x="576.40" y="77.33" font-size="9.20" textLength="78.17" lengthAdjust="spacingAndGlyphs">SVM AvgPre=0.29</text>
<line x1="551.90" y1="87.00" x2="569.00" y2="87.00" stroke="#d3d3d3" stroke-width="2.20"/>
<text x="576.40" y="90.05" font-size="9.20" textLength="94.83" lengthAdjust="spacingAndGlyphs">AdaBoost AvgPre=0.3</text>
<line x1="551.90" y1="99.72" x2="569.00" y2="99.72" stroke="#000" stroke-width="0.85" stroke-dasharray="2.4 1.25"/>
<text x="576.40" y="102.77" font-size="9.20" textLength="79.97" lengthAdjust="spacingAndGlyphs">random prediction</text>
<g font-size="8.30" fill="#262626">
<text x="40.50" y="244.85" text-anchor="middle" textLength="11.61" lengthAdjust="spacingAndGlyphs">0.0</text>
<text x="95.40" y="244.85" text-anchor="middle" textLength="11.61" lengthAdjust="spacingAndGlyphs">0.2</text>
<text x="150.30" y="244.85" text-anchor="middle" textLength="11.61" lengthAdjust="spacingAndGlyphs">0.4</text>
<text x="205.20" y="244.85" text-anchor="middle" textLength="11.61" lengthAdjust="spacingAndGlyphs">0.6</text>
<text x="260.10" y="244.85" text-anchor="middle" textLength="11.61" lengthAdjust="spacingAndGlyphs">0.8</text>
<text x="315.00" y="244.85" text-anchor="middle" textLength="11.61" lengthAdjust="spacingAndGlyphs">1.0</text>
<text x="24.00" y="229.80" text-anchor="end" textLength="11.61" lengthAdjust="spacingAndGlyphs">0.0</text>
<text x="24.00" y="188.84" text-anchor="end" textLength="11.61" lengthAdjust="spacingAndGlyphs">0.2</text>
<text x="24.00" y="147.88" text-anchor="end" textLength="11.61" lengthAdjust="spacingAndGlyphs">0.4</text>
<text x="24.00" y="106.92" text-anchor="end" textLength="11.61" lengthAdjust="spacingAndGlyphs">0.6</text>
<text x="24.00" y="65.96" text-anchor="end" textLength="11.61" lengthAdjust="spacingAndGlyphs">0.8</text>
<text x="24.00" y="25.00" text-anchor="end" textLength="11.61" lengthAdjust="spacingAndGlyphs">1.0</text>
<text x="392.00" y="244.85" text-anchor="middle" textLength="11.61" lengthAdjust="spacingAndGlyphs">0.0</text>
<text x="447.06" y="244.85" text-anchor="middle" textLength="11.61" lengthAdjust="spacingAndGlyphs">0.2</text>
<text x="502.12" y="244.85" text-anchor="middle" textLength="11.61" lengthAdjust="spacingAndGlyphs">0.4</text>
<text x="557.18" y="244.85" text-anchor="middle" textLength="11.61" lengthAdjust="spacingAndGlyphs">0.6</text>
<text x="612.24" y="244.85" text-anchor="middle" textLength="11.61" lengthAdjust="spacingAndGlyphs">0.8</text>
<text x="667.30" y="244.85" text-anchor="middle" textLength="11.61" lengthAdjust="spacingAndGlyphs">1.0</text>
<text x="376.20" y="239.80" text-anchor="end" textLength="11.61" lengthAdjust="spacingAndGlyphs">0.0</text>
<text x="376.20" y="194.84" text-anchor="end" textLength="11.61" lengthAdjust="spacingAndGlyphs">0.2</text>
<text x="376.20" y="149.88" text-anchor="end" textLength="11.61" lengthAdjust="spacingAndGlyphs">0.4</text>
<text x="376.20" y="104.92" text-anchor="end" textLength="11.61" lengthAdjust="spacingAndGlyphs">0.6</text>
<text x="376.20" y="59.96" text-anchor="end" textLength="11.61" lengthAdjust="spacingAndGlyphs">0.8</text>
<text x="376.20" y="15.00" text-anchor="end" textLength="11.61" lengthAdjust="spacingAndGlyphs">1.0</text>
</g>
<text x="177.60" y="9.6" text-anchor="middle" font-size="10.3" textLength="81.08" lengthAdjust="spacingAndGlyphs">Overall Test ROC</text>
<text x="529.60" y="9.6" text-anchor="middle" font-size="10.3" textLength="167.36" lengthAdjust="spacingAndGlyphs">Overall Test Precision-Recall Curve</text>
<text x="177.70" y="254.5" text-anchor="middle" font-size="9.3" textLength="81.32" lengthAdjust="spacingAndGlyphs">False Positive Rate</text>
<text x="529.40" y="254.5" text-anchor="middle" font-size="9.3" textLength="26.11" lengthAdjust="spacingAndGlyphs">Recall</text>
<text transform="translate(8.3 125.3) rotate(-90)" text-anchor="middle" font-size="9.3" textLength="77.50" lengthAdjust="spacingAndGlyphs">True Positive Rate</text>
<text transform="translate(361.6 125.5) rotate(-90)" text-anchor="middle" font-size="9.3" textLength="38.82" lengthAdjust="spacingAndGlyphs">Precision</text>
</svg>
</body></html>
